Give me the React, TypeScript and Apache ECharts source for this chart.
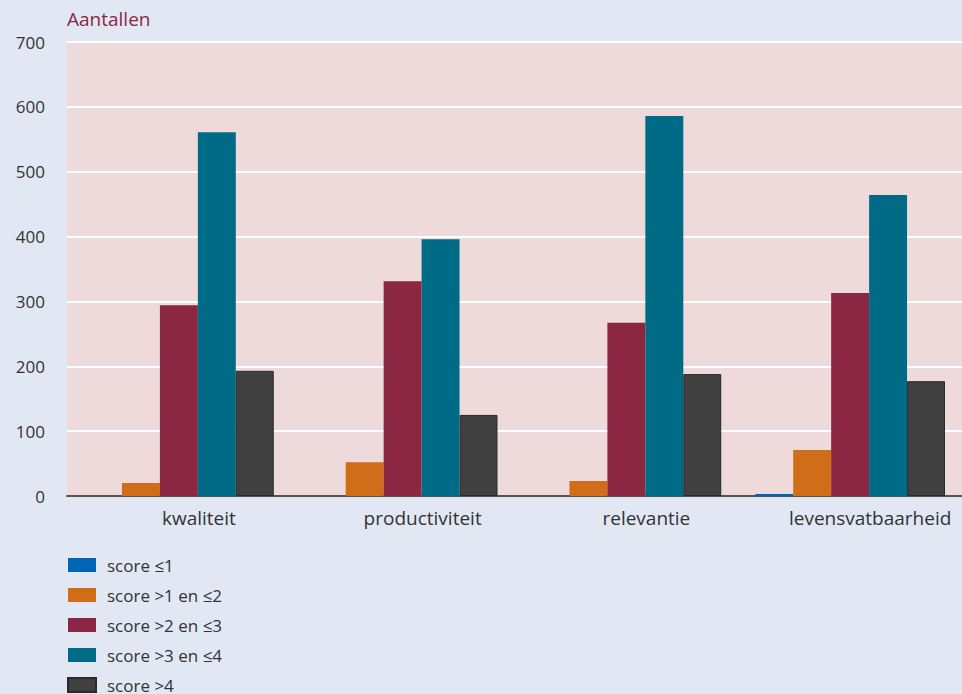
import React, { useEffect, useRef } from "react";
import * as echarts from "echarts";

const categories = ["kwaliteit", "productiviteit", "relevantie", "levensvatbaarheid"];
const seriesNames = ["score ≤1", "score >1 en ≤2", "score >2 en ≤3", "score >3 en ≤4", "score >4"];
const score1 = [0, 0, 0, 3];
const score2 = [20, 52, 23, 71];
const score3 = [294, 331, 267, 313];
const score4 = [561, 396, 586, 464];
const score5 = [193, 125, 188, 177];
const yTicks = [0, 100, 200, 300, 400, 500, 600, 700];

const colors = ["#0066b3", "#cf6d19", "#8b2742", "#006b87", "#404040"];
const FONT = "Open Sans";

export default function App() {
  const ref = useRef<HTMLDivElement>(null);
  useEffect(() => {
    const chart = echarts.init(ref.current!, undefined, { renderer: "svg" });
    const data = [score1, score2, score3, score4, score5];
    chart.setOption({
      animation: false,
      backgroundColor: "#e1e8f4",
      textStyle: { fontFamily: FONT },
      title: {
        text: "Aantallen",
        left: 67,
        top: 9,
        padding: 0,
        textStyle: { color: "#8b2742", fontSize: 19, fontWeight: "normal", fontFamily: FONT },
      },
      legend: {
        orient: "vertical",
        left: 67,
        top: 555,
        height: 300,
        padding: 0,
        itemWidth: 28,
        itemHeight: 14,
        itemGap: 10,
        icon: "rect",
        textStyle: { fontSize: 17, lineHeight: 20, color: "#333", fontFamily: FONT, padding: [0, 0, 0, 6] },
        data: seriesNames,
      },
      grid: {
        left: 67,
        right: -13,
        top: 42,
        bottom: 198,
        show: true,
        backgroundColor: "#eedadb",
        borderWidth: 0,
      },
      xAxis: {
        type: "category",
        data: categories,
        axisLine: { show: true, lineStyle: { color: "#555", width: 2 } },
        axisTick: { show: false },
        axisLabel: { fontSize: 19, color: "#333", margin: 12, fontFamily: FONT, padding: [0, 0, 0, 40] },
      },
      yAxis: {
        type: "value",
        min: yTicks[0],
        max: yTicks[yTicks.length - 1],
        interval: 100,
        axisLine: { show: false },
        axisTick: { show: false },
        axisLabel: { fontSize: 17, color: "#333", margin: 22, fontFamily: FONT },
        splitLine: { show: true, lineStyle: { color: "#ffffff", width: 2 } },
      },
      series: seriesNames.map((name, i) => ({
        name,
        type: "bar",
        data: data[i],
        barGap: "0%",
        barCategoryGap: "15.2%",
        itemStyle: {
          color: colors[i],
          borderColor: i === 4 ? "#2a2a2a" : undefined,
          borderWidth: i === 4 ? 1 : 0,
        },
      })),
    });
    return () => chart.dispose();
  }, []);
  return <div ref={ref} style={{ width: 962, height: 694, position: "absolute", left: 0, top: 0 }} />;
}
